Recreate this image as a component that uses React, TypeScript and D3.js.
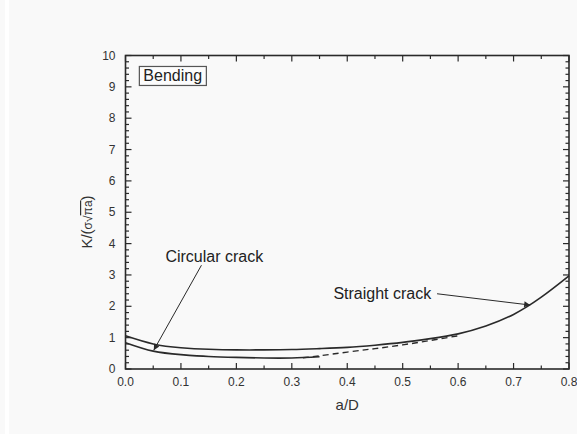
import React, { useEffect, useRef } from "react";
import * as d3 from "d3";

const W = 577;
const H = 434;

// Data
const upperX = [0, 0.05, 0.1, 0.15, 0.2, 0.25, 0.3, 0.35, 0.4, 0.45, 0.5, 0.55, 0.6, 0.65, 0.7, 0.75, 0.8];
const upperY = [1.06, 0.80, 0.68, 0.63, 0.61, 0.61, 0.62, 0.65, 0.69, 0.76, 0.85, 0.97, 1.12, 1.37, 1.74, 2.29, 2.97];

const lowerX = [0, 0.05, 0.1, 0.15, 0.2, 0.25, 0.3, 0.35];
const lowerY = [0.84, 0.57, 0.46, 0.40, 0.37, 0.35, 0.35, 0.39];

const dashX = [0.32, 0.35, 0.4, 0.45, 0.5, 0.55, 0.6];
const dashY = [0.36, 0.42, 0.54, 0.65, 0.77, 0.91, 1.06];

const xTicks = [0, 0.1, 0.2, 0.3, 0.4, 0.5, 0.6, 0.7, 0.8];
const yTicks = [0, 1, 2, 3, 4, 5, 6, 7, 8, 9, 10];

const boxLabel = "Bending";
const circularLabel = "Circular crack";
const straightLabel = "Straight crack";
const xTitle = "a/D";

export default function App() {
  const ref = useRef<SVGSVGElement>(null);

  useEffect(() => {
    const svg = d3.select(ref.current);
    svg.selectAll("*").remove();

    const left = 125.5, right = 569, top = 55.5, bottom = 369;
    const x = d3.scaleLinear().domain([0, 0.8]).range([left, right]);
    const y = d3.scaleLinear().domain([0, 10]).range([bottom, top]);
    const font = "'Liberation Sans', Arial, sans-serif";
    const ink = "#2a2a2a";

    svg.append("rect").attr("width", W).attr("height", H).attr("fill", "#f9f9f9");
    svg.append("rect").attr("x", 5).attr("y", 0).attr("width", 4).attr("height", H).attr("fill", "#ffffff");

    const defs = svg.append("defs");
    defs.append("marker").attr("id", "arr").attr("viewBox", "0 0 10 10").attr("refX", 10).attr("refY", 5)
      .attr("markerWidth", 8).attr("markerHeight", 6).attr("markerUnits", "userSpaceOnUse")
      .attr("orient", "auto")
      .append("path").attr("d", "M0,0 L10,5 L0,10 Z").attr("fill", ink);

    // minor/major ticks
    const g = svg.append("g").attr("stroke", ink).attr("stroke-width", 1.2);
    const xMinor = d3.range(0, 0.8001, 0.05);
    xMinor.forEach((v, i) => {
      const len = i % 2 === 0 ? 6 : 3.5;
      g.append("line").attr("x1", x(v)).attr("x2", x(v)).attr("y1", bottom).attr("y2", bottom - len);
      g.append("line").attr("x1", x(v)).attr("x2", x(v)).attr("y1", top).attr("y2", top + len);
    });
    const yMinor = d3.range(0, 10.001, 0.2);
    yMinor.forEach((v, i) => {
      const len = i % 5 === 0 ? 6 : 3.5;
      g.append("line").attr("y1", y(v)).attr("y2", y(v)).attr("x1", left).attr("x2", left + len);
      g.append("line").attr("y1", y(v)).attr("y2", y(v)).attr("x1", right).attr("x2", right - len);
    });

    // frame
    svg.append("rect").attr("x", left).attr("y", top).attr("width", right - left).attr("height", bottom - top)
      .attr("fill", "none").attr("stroke", ink).attr("stroke-width", 1.6);

    // tick labels
    svg.append("g").selectAll("text").data(xTicks).join("text")
      .attr("x", (d) => x(d)).attr("y", bottom + 17).attr("text-anchor", "middle")
      .attr("font-family", font).attr("font-size", 12).attr("fill", "#333")
      .text((d) => d.toFixed(1));
    svg.append("g").selectAll("text").data(yTicks).join("text")
      .attr("x", left - 10).attr("y", (d) => y(d) + 4).attr("text-anchor", "end")
      .attr("font-family", font).attr("font-size", 12).attr("fill", "#333")
      .text((d) => String(d));

    // axis titles
    svg.append("text").attr("x", (left + right) / 2).attr("y", 410).attr("text-anchor", "middle")
      .attr("font-family", font).attr("font-size", 15).attr("fill", "#333").text(xTitle);

    const yt = svg.append("text").attr("transform", `translate(92,222) rotate(-90)`)
      .attr("text-anchor", "middle").attr("font-family", font).attr("font-size", 15).attr("fill", "#333");
    yt.append("tspan").text("K/(");
    yt.append("tspan").attr("font-size", 12).text("σ√");
    yt.append("tspan").attr("font-size", 12).attr("text-decoration", "overline").text("πa");
    yt.append("tspan").text(")");

    // curves
    const line = d3.line<[number, number]>().x((d) => x(d[0])).y((d) => y(d[1])).curve(d3.curveNatural);
    const up = upperX.map((v, i) => [v, upperY[i]] as [number, number]);
    const lo = lowerX.map((v, i) => [v, lowerY[i]] as [number, number]);
    const da = dashX.map((v, i) => [v, dashY[i]] as [number, number]);
    svg.append("path").attr("d", line(up)).attr("fill", "none").attr("stroke", ink).attr("stroke-width", 1.6);
    svg.append("path").attr("d", line(lo)).attr("fill", "none").attr("stroke", ink).attr("stroke-width", 1.6);
    svg.append("path").attr("d", line(da)).attr("fill", "none").attr("stroke", ink).attr("stroke-width", 1.4)
      .attr("stroke-dasharray", "6,4");

    // Bending box
    svg.append("rect").attr("x", x(0.025)).attr("y", y(9.65)).attr("width", 67).attr("height", 19)
      .attr("fill", "#fcfcfc").attr("stroke", "#555").attr("stroke-width", 1.2);
    svg.append("text").attr("x", x(0.025) + 4).attr("y", y(9.65) + 15).attr("font-family", font)
      .attr("font-size", 16).attr("fill", "#222").text(boxLabel);

    // annotations
    svg.append("text").attr("x", x(0.072)).attr("y", y(3.4)).attr("font-family", font)
      .attr("font-size", 16).attr("fill", "#222").text(circularLabel);
    svg.append("line").attr("x1", x(0.137)).attr("y1", y(3.31)).attr("x2", x(0.051)).attr("y2", y(0.6))
      .attr("stroke", ink).attr("stroke-width", 1).attr("marker-end", "url(#arr)");

    svg.append("text").attr("x", x(0.375)).attr("y", y(2.23)).attr("font-family", font)
      .attr("font-size", 16).attr("fill", "#222").text(straightLabel);
    svg.append("line").attr("x1", x(0.562)).attr("y1", y(2.4)).attr("x2", x(0.73)).attr("y2", y(2.04))
      .attr("stroke", ink).attr("stroke-width", 1).attr("marker-end", "url(#arr)");
  }, []);

  return (
    <svg ref={ref} width={W} height={H} style={{ position: "absolute", left: 0, top: 0, display: "block" }} />
  );
}
